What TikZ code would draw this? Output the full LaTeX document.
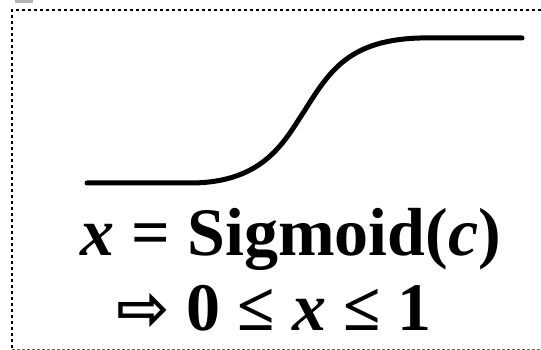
\documentclass[tikz,border=0pt]{standalone}
\usepackage{fontspec}
\setmainfont{Liberation Serif}
\newfontfamily\arrowfont{DejaVu Sans}
\usetikzlibrary{positioning}

\tikzset{
  frame/.style={line width=2.6pt, dash pattern=on 2.6pt off 3.4pt},
  sigtext/.style={font=\fontsize{68}{68}\selectfont\bfseries, inner sep=0pt, anchor=base}
}

\begin{document}
\begin{tikzpicture}[x=1pt,y=-1pt]
  \useasboundingbox (0,0) rectangle (541,350);
  \fill[gray!60] (15,0) rectangle (33,3);
  % frame
  \draw[frame] (541,10) -- (12,10) -- (12,349);
  \draw[gray!80!black, line width=0.8pt, dash pattern=on 3pt off 2pt] (12,349) -- (541,349);
  % sigmoid curve
  \draw[line width=5pt, line cap=round] (87,183) -- (190,183)
    .. controls (265,183) and (285,140) .. (305,110)
    .. controls (330,70) and (350,40) .. (420,38) -- (522,38);
  % labels
  \node[sigtext] (eq) at (291,255) {\itshape x\upshape{} = Sigmoid(\itshape c\upshape)};
  \node[sigtext] (bound) at (274,330) {{\arrowfont\fontsize{64}{64}\selectfont ⇨} 0 ≤ \itshape x\upshape{} ≤ 1};
\end{tikzpicture}
\end{document}
